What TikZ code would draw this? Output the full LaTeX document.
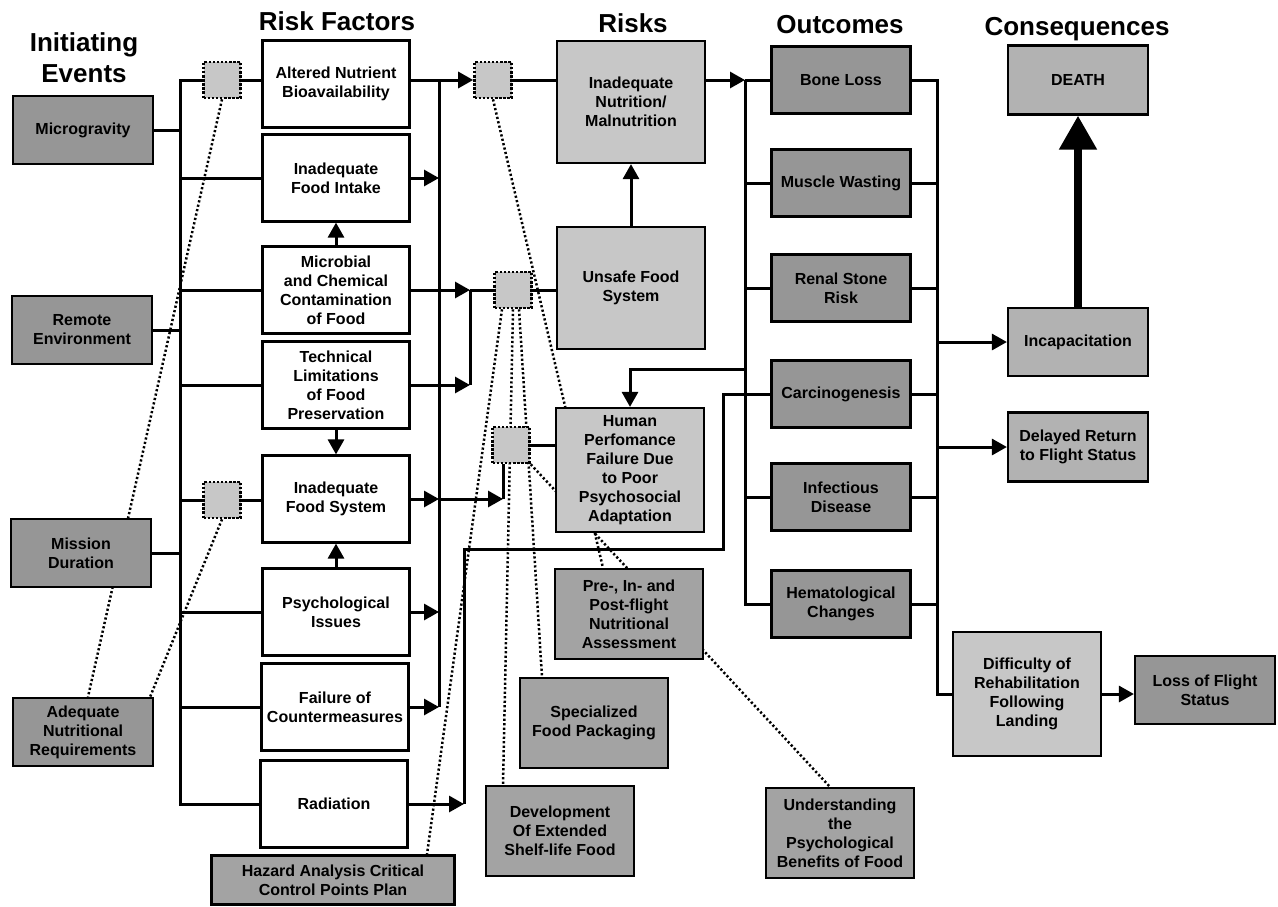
\documentclass[tikz,border=0pt]{standalone}
\usepackage{fontspec}
\setmainfont{Liberation Sans}
\usetikzlibrary{arrows.meta,backgrounds}

\definecolor{darkbox}{gray}{0.59}
\definecolor{midbox}{gray}{0.64}
\definecolor{consbox}{gray}{0.70}
\definecolor{lightbox}{gray}{0.78}

\tikzset{
  box/.style={draw, line width=2.2pt, align=center, inner sep=0pt,
    font=\fontsize{16}{19}\selectfont\bfseries},
  eventbox/.style={box, fill=darkbox, minimum width=140pt, minimum height=68pt},
  factorbox/.style={box, fill=white, minimum width=147pt, minimum height=87pt},
  riskbox/.style={box, fill=lightbox, minimum width=148pt, minimum height=122pt},
  consbox/.style={box, fill=consbox, minimum width=140pt, minimum height=68pt},
  fixbox/.style={box, fill=midbox, minimum width=148pt, minimum height=90pt},
  hub/.style={draw, line width=2.6pt, dash pattern=on 2.5pt off 1.6pt,
    fill=lightbox, minimum width=37pt, minimum height=36pt, inner sep=0pt},
  heading/.style={font=\fontsize{26}{31}\selectfont\bfseries, align=center, inner sep=0pt},
  conn/.style={line width=3pt},
  arr/.style={conn, -{Triangle[length=15pt,width=16pt]}},
  bigarr/.style={line width=8pt, -{Triangle[length=34pt,width=36pt]}},
  link/.style={line width=2.5pt, dash pattern=on 2.2pt off 2.3pt},
}

\begin{document}
\begin{tikzpicture}[x=1pt,y=-1pt]
    %%%%% START %%%%%
    \useasboundingbox (0,0) rectangle (1278,906);

    \node[heading] (hInit) at (84,58) {Initiating\\Events};
    \node[heading, anchor=base] (hFac) at (337,30) {Risk Factors};
    \node[heading, anchor=base] (hRisk) at (633,32) {Risks};
    \node[heading, anchor=base] (hOut) at (840,33) {Outcomes};
    \node[heading, anchor=base] (hCons) at (1077,35) {Consequences};

    \node[eventbox] (mg) at (83,130) {Microgravity};
    \node[eventbox] (re) at (82,330) {Remote\\Environment};
    \node[eventbox] (md) at (81,553) {Mission\\Duration};
    \node[eventbox] (anr) at (83,732) {Adequate\\Nutritional\\Requirements};

    \node[factorbox] (anb) at (336,84) {Altered Nutrient\\Bioavailability};
    \node[factorbox] (ifi) at (336,178) {Inadequate\\Food Intake};
    \node[factorbox] (mcc) at (336,290) {Microbial\\and Chemical\\Contamination\\of Food};
    \node[factorbox] (tlp) at (336,385) {Technical\\Limitations\\of Food\\Preservation};
    \node[factorbox] (ifs) at (336,499) {Inadequate\\Food System};
    \node[factorbox] (psy) at (336,612) {Psychological\\Issues};
    \node[factorbox] (foc) at (335,707) {Failure of\\Countermeasures};
    \node[factorbox] (rad) at (334,804) {Radiation};

    \node[hub] (sqA) at (222,80) {};
    \node[hub] (sqB) at (222,500) {};
    \node[hub] (sq1) at (493,80) {};
    \node[hub] (sq2) at (513,290) {};
    \node[hub] (sq3) at (511,445) {};

    \node[riskbox] (inm) at (631,102) {Inadequate\\Nutrition/\\Malnutrition};
    \node[riskbox] (ufs) at (631,288) {Unsafe Food\\System};
    \node[riskbox, minimum height=124pt] (hpf) at (630,470) {Human\\Perfomance\\Failure Due\\to Poor\\Psychosocial\\Adaptation};

    \node[eventbox, minimum width=139pt, minimum height=67pt] (bl) at (841,80) {Bone Loss};
    \node[eventbox, minimum width=139pt, minimum height=67pt] (mw) at (841,183) {Muscle Wasting};
    \node[eventbox, minimum width=139pt, minimum height=67pt] (rsr) at (841,288) {Renal Stone\\Risk};
    \node[eventbox, minimum width=139pt, minimum height=67pt] (carc) at (841,394) {Carcinogenesis};
    \node[eventbox, minimum width=139pt, minimum height=67pt] (inf) at (841,497) {Infectious\\Disease};
    \node[eventbox, minimum width=139pt, minimum height=67pt] (hem) at (841,604) {Hematological\\Changes};

    \node[consbox, minimum height=69pt] (death) at (1078,80) {DEATH};
    \node[consbox] (incap) at (1078,342) {Incapacitation};
    \node[consbox, minimum height=69pt] (drf) at (1078,447) {Delayed Return\\to Flight Status};
    \node[riskbox, minimum height=124pt] (diff) at (1027,694) {Difficulty of\\Rehabilitation\\Following\\Landing};
    \node[eventbox] (lfs) at (1205,690) {Loss of Flight\\Status};

    \node[fixbox] (pfa) at (629,614) {Pre-, In- and\\Post-flight\\Nutritional\\Assessment};
    \node[fixbox] (sfp) at (594,723) {Specialized\\Food Packaging};
    \node[fixbox] (dev) at (560,831) {Development\\Of Extended\\Shelf-life Food};
    \node[fixbox] (und) at (840,833) {Understanding\\the\\Psychological\\Benefits of Food};
    \node[fixbox, minimum width=243pt, minimum height=49pt] (haz) at (333,880) {Hazard Analysis Critical\\Control Points Plan};

    % left bus
    \coordinate (bl1) at (180,80);
    \coordinate (bl2) at (180,804);
    \draw[conn] (sqA.west) -- (bl1) -- (bl2) -- (rad.west);
    \draw[conn] (mg.east) -- (mg.east -| bl1);
    \draw[conn] (re.east) -- (re.east -| bl1);
    \draw[conn] (md.east) -- (md.east -| bl1);
    \draw[conn] (sqA.east) -- (sqA.east -| anb.west);
    \draw[conn] (ifi.west -| bl1) -- (ifi.west);
    \draw[conn] (mcc.west -| bl1) -- (mcc.west);
    \draw[conn] (tlp.west -| bl1) -- (tlp.west);
    \draw[conn] (sqB.west -| bl1) -- (sqB.west);
    \draw[conn] (sqB.east) -- (sqB.east -| ifs.west);
    \draw[conn] (psy.west -| bl1) -- (psy.west);
    \draw[conn] (foc.west -| bl1) -- (foc.west);

    \draw[arr] (mcc.north) -- (ifi.south);
    \draw[arr] (tlp.south) -- (ifs.north);
    \draw[arr] (psy.north) -- (ifs.south);

    % right bus
    \coordinate (br1) at (439,80);
    \coordinate (br2) at (439,707);
    \coordinate (bm1) at (470,290);
    \coordinate (s3d) at ([xshift=-8pt]sq3.south);
    \draw[conn] (br1) -- (br2);
    \draw[arr] (anb.east |- sq1) -- (sq1.west);
    \draw[arr] (ifi.east) -- (ifi.east -| br1);
    \draw[arr] (mcc.east) -- (bm1);
    \draw[conn] (bm1) -- (sq2.west);
    \draw[arr] (tlp.east) -- (tlp.east -| bm1);
    \draw[conn] (bm1) -- (tlp.east -| bm1);
    \draw[arr] (ifs.east) -- (ifs.east -| br1);
    \draw[arr] (ifs.east -| br1) -- (ifs.east -| s3d);
    \draw[conn] (s3d) -- (ifs.east -| s3d);
    \draw[arr] (psy.east) -- (psy.east -| br1);
    \draw[arr] (foc.east) -- (br2);

    \coordinate (rd) at (464,804);
    \coordinate (rj) at (723,549);
    \draw[arr] (rad.east) -- (rd);
    \draw[conn] (rd) |- (rj) |- (carc.west);

    \draw[conn] (sq1.east) -- (sq1.east -| inm.west);
    \draw[conn] (sq2.east) -- (sq2.east -| ufs.west);
    \draw[conn] (sq3.east) -- (sq3.east -| hpf.west);
    \draw[arr] (ufs.north) -- (inm.south);

    % outcome bus
    \coordinate (bo1) at (745,80);
    \coordinate (bo2) at (745,604);
    \coordinate (bo3) at (745,369);
    \draw[arr] (inm.east |- sq1) -- (bo1);
    \draw[conn] (bo1) -- (bo2) -- (hem.west);
    \draw[conn] (bo1) -- (bl.west);
    \draw[conn] (mw.west -| bo1) -- (mw.west);
    \draw[conn] (rsr.west -| bo1) -- (rsr.west);
    \draw[conn] (inf.west -| bo1) -- (inf.west);
    \draw[arr] (bo3) -| (hpf.north);

    % consequence bus
    \coordinate (bc1) at (937,80);
    \draw[conn] (bl.east) -- (bc1) -- (bc1 |- diff.west) -- (diff.west);
    \draw[conn] (mw.east) -- (mw.east -| bc1);
    \draw[conn] (rsr.east) -- (rsr.east -| bc1);
    \draw[conn] (carc.east) -- (carc.east -| bc1);
    \draw[conn] (inf.east) -- (inf.east -| bc1);
    \draw[conn] (hem.east) -- (hem.east -| bc1);
    \draw[arr] (incap.west -| bc1) -- (incap.west);
    \draw[arr] (drf.west -| bc1) -- (drf.west);
    \draw[bigarr] (incap.north) -- (death.south);
    \draw[arr] (diff.east) -- (diff.east -| lfs.west);

    % dotted links
    \begin{scope}[on background layer]
    \draw[link] (sqA.south) -- ([xshift=5pt]anr.north);
    \draw[link] (sqB.south) -- ([xshift=-4pt]anr.north east);
    \draw[link] (sq1.south) -- ([xshift=-26pt]pfa.north);
    \draw[link] ([xshift=-11pt]sq2.south) -- ([xshift=94pt]haz.north);
    \draw[link] (sq2.south) -- ([xshift=-57pt]dev.north);
    \draw[link] ([xshift=6pt]sq2.south) -- ([xshift=-52pt]sfp.north);
    \draw[link] (sq3.south east) -- ([xshift=-10pt]und.north);
    \end{scope}

    %%%%% END %%%%%
\end{tikzpicture}
\end{document}
